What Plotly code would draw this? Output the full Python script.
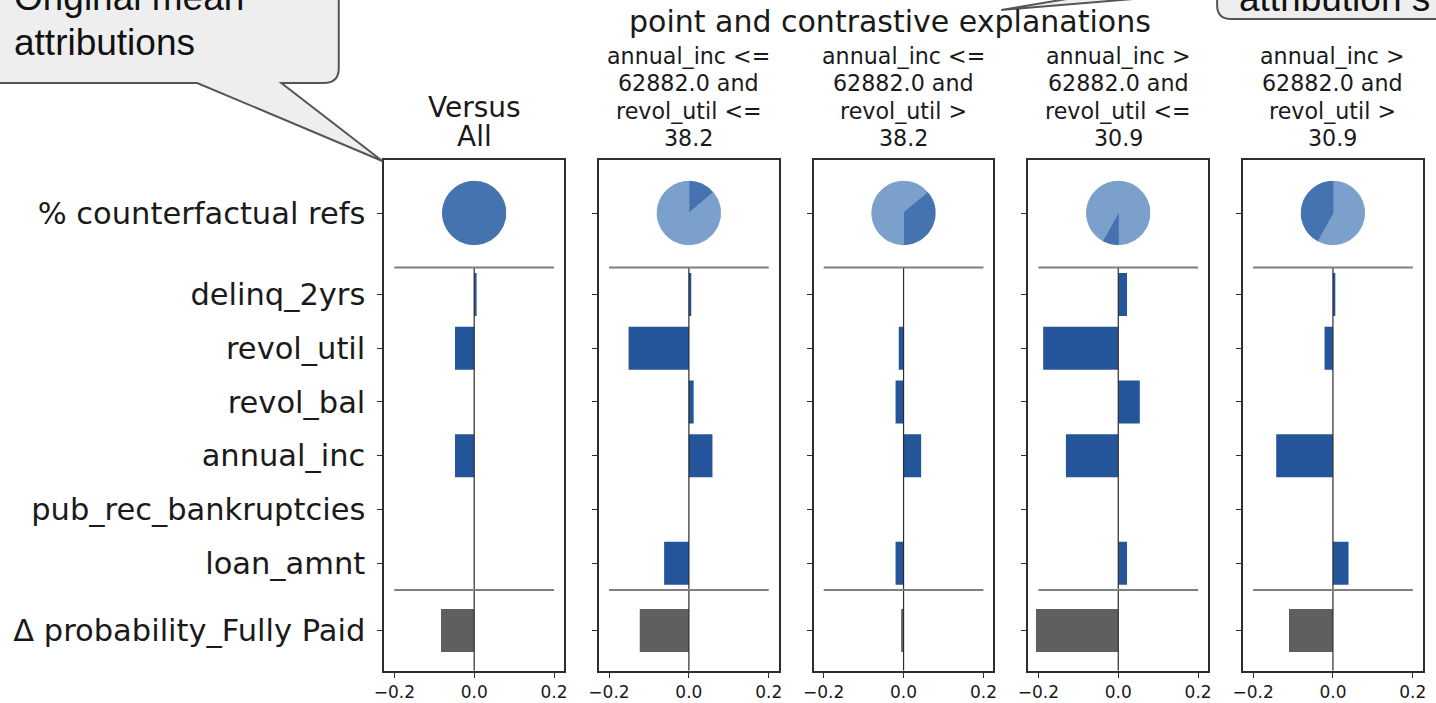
import plotly.graph_objects as go

W, H = 1436, 703

# ---------------- data ----------------
features = ["delinq_2yrs", "revol_util", "revol_bal", "annual_inc",
            "pub_rec_bankruptcies", "loan_amnt"]
row_labels = ["% counterfactual refs"] + features + ["Δ probability_Fully Paid"]
pie_row = 6.5
feature_rows = [5, 4, 3, 2, 1, 0]
delta_row = -1.25
row_pos = [pie_row] + feature_rows + [delta_row]

column_titles = [
    ["Versus", "All"],
    ["annual_inc <=", "62882.0 and", "revol_util <=", "38.2"],
    ["annual_inc <=", "62882.0 and", "revol_util >", "38.2"],
    ["annual_inc >", "62882.0 and", "revol_util <=", "30.9"],
    ["annual_inc >", "62882.0 and", "revol_util >", "30.9"],
]
suptitle = "point and contrastive explanations"

# mean attributions per column (order of `features`)
attr_versus_all = [0.006, -0.048, 0.0, -0.048, 0.0, 0.0]
attr_group1 = [0.006, -0.151, 0.012, 0.059, 0.0, -0.062]
attr_group2 = [0.0, -0.012, -0.020, 0.044, 0.0, -0.020]
attr_group3 = [0.022, -0.188, 0.054, -0.131, 0.0, 0.022]
attr_group4 = [0.006, -0.021, 0.0, -0.142, 0.0, 0.039]
attributions = [attr_versus_all, attr_group1, attr_group2, attr_group3, attr_group4]

delta_prob = [-0.083, -0.123, -0.006, -0.206, -0.110]

# share (%) of counterfactual references in each group
ref_share = [13.9, 36.1, 8.1, 41.9]

x_tick_vals = [-0.2, 0.0, 0.2]
x_tick_text = ["−0.2", "0.0", "0.2"]

callout_left = ["Original mean", "attributions"]
callout_right = "attribution s"

# ---------------- style ----------------
BLUE = "#24559b"
GREY_BAR = "#5f5f5f"
PIE_DARK = "#4473b0"
PIE_LIGHT = "#7ba0cb"
FRAME = "#2e2e2e"
FONT = "DejaVu Sans"
CALLOUT_FONT = "Liberation Sans"

panel_left = [377, 593.8, 810.6, 1027.4, 1244.2]
panel_w = 181.5
panel_top, panel_bottom = 160, 670.7
pie_cy, pie_r = 213, 32


def X(px):
    return px / W


def Y(py):
    return 1 - py / H


fig = go.Figure()
layout = dict(
    width=W, height=H, autosize=False,
    margin=dict(l=0, r=0, t=0, b=0),
    paper_bgcolor="white", plot_bgcolor="white",
    barmode="overlay", showlegend=False,
    font=dict(family=FONT, color="#1a1a1a"),
)

shapes = []
annotations = []

for i in range(5):
    n = "" if i == 0 else str(i + 1)
    xa, ya = "x" + n, "y" + n
    L = panel_left[i]
    layout["xaxis" + n] = dict(
        domain=[X(L), X(L + panel_w)], range=[-0.225, 0.225],
        anchor=ya, showline=True, mirror=True, linecolor=FRAME, linewidth=1.8,
        ticks="outside", ticklen=5, tickwidth=1.4, tickcolor=FRAME,
        tickvals=x_tick_vals, ticktext=x_tick_text,
        tickfont=dict(family=FONT, size=17, color="#1a1a1a"),
        showgrid=False, zeroline=False, fixedrange=True,
    )
    layout["yaxis" + n] = dict(
        domain=[Y(panel_bottom), Y(panel_top)], range=[-2, 7.5],
        anchor=xa, showline=True, mirror=True, linecolor=FRAME, linewidth=1.8,
        ticks="outside", ticklen=5, tickwidth=1.4, tickcolor=FRAME,
        tickvals=row_pos, ticktext=row_labels if i == 0 else [""] * len(row_pos),
        showticklabels=(i == 0), ticklabelstandoff=6,
        tickfont=dict(family=FONT, size=30.5, color="#1a1a1a"),
        showgrid=False, zeroline=False, fixedrange=True,
    )

    fig.add_trace(go.Bar(
        x=attributions[i], y=feature_rows, orientation="h", width=0.8,
        marker=dict(color=BLUE, line=dict(width=0)),
        xaxis=xa, yaxis=ya, hoverinfo="skip",
    ))
    fig.add_trace(go.Bar(
        x=[delta_prob[i]], y=[delta_row], orientation="h", width=0.8,
        marker=dict(color=GREY_BAR, line=dict(width=0)),
        xaxis=xa, yaxis=ya, hoverinfo="skip",
    ))

    # zero line and separators
    shapes.append(dict(type="line", xref=xa, yref=ya, x0=0, x1=0, y0=-2, y1=5.5,
                       line=dict(color="#2b2b2b", width=1.2), layer="above"))
    for ysep in (5.5, -0.5):
        shapes.append(dict(type="line", xref=xa, yref=ya, x0=-0.2, x1=0.2,
                           y0=ysep, y1=ysep,
                           line=dict(color="#7f7f7f", width=2), layer="above"))

    # pie of counterfactual references
    cx = L + panel_w / 2
    if i == 0:
        colors = [PIE_DARK] * len(ref_share)
    else:
        colors = [PIE_DARK if k == i - 1 else PIE_LIGHT for k in range(len(ref_share))]
    fig.add_trace(go.Pie(
        values=ref_share, sort=False, direction="clockwise", rotation=0,
        marker=dict(colors=colors, line=dict(width=1, color=colors)),
        textinfo="none", hoverinfo="skip", showlegend=False,
        domain=dict(x=[X(cx - pie_r), X(cx + pie_r)],
                    y=[Y(pie_cy + pie_r), Y(pie_cy - pie_r)]),
    ))

    # column titles
    if i == 0:
        fs, baselines = 28, [117, 146]
    else:
        fs, baselines = 22.2, [63.3, 90.9, 118.5, 146.1]
    for line, b in zip(column_titles[i], baselines):
        annotations.append(dict(
            text=line, x=X(cx), y=Y(b - 0.346 * fs), xref="paper", yref="paper",
            xanchor="center", yanchor="middle", showarrow=False, borderpad=0,
            font=dict(family=FONT, size=fs, color="#1a1a1a"),
        ))

annotations.append(dict(
    text=suptitle, x=X(888), y=Y(31.7 - 0.346 * 30), xref="paper", yref="paper",
    xanchor="center", yanchor="middle", showarrow=False,
    font=dict(family=FONT, size=30, color="#1a1a1a"),
))


# ---------------- callout bubbles ----------------
def path(cmds):
    out = []
    for c in cmds:
        op, pts = c[0], c[1:]
        coords = []
        for k in range(0, len(pts), 2):
            coords.append(f"{X(pts[k]):.5f},{Y(pts[k + 1]):.5f}")
        out.append(op + " " + " ".join(coords))
    return " ".join(out) + " Z"


left_bubble = path([
    ("M", -20, -20), ("L", 331, -20), ("L", 331, 68), ("Q", 331, 83, 316, 83),
    ("L", 273, 83), ("L", 375, 161), ("L", 188, 83), ("L", -20, 83),
])
right_bubble = path([
    ("M", 1500, -20), ("L", 1500, 19), ("L", 1232, 19), ("Q", 1218, 19, 1218, 5),
    ("L", 1218, -8), ("L", 1000, 10), ("L", 1120, -10), ("L", 1120, -20),
])
for p in (left_bubble, right_bubble):
    shapes.append(dict(type="path", xref="paper", yref="paper", path=p,
                       fillcolor="#eeeeee", line=dict(color="#555555", width=2),
                       layer="above"))

CFS = 37
for line, b in zip(callout_left, [10, 55]):
    annotations.append(dict(
        text=line, x=X(1), y=Y(b - 0.3465 * CFS), xref="paper", yref="paper",
        xanchor="left", yanchor="middle", showarrow=False,
        font=dict(family=CALLOUT_FONT, size=CFS, color="#111111"),
    ))
annotations.append(dict(
    text=callout_right, x=X(1238), y=Y(11 - 0.3465 * CFS), xref="paper", yref="paper",
    xanchor="left", yanchor="middle", showarrow=False,
    font=dict(family=CALLOUT_FONT, size=CFS, color="#111111"),
))

layout["shapes"] = shapes
layout["annotations"] = annotations
fig.update_layout(**layout)

fig.write_html("out.html", config={"displayModeBar": False},
               post_script="document.body.style.margin='0';document.body.style.overflow='hidden';")
